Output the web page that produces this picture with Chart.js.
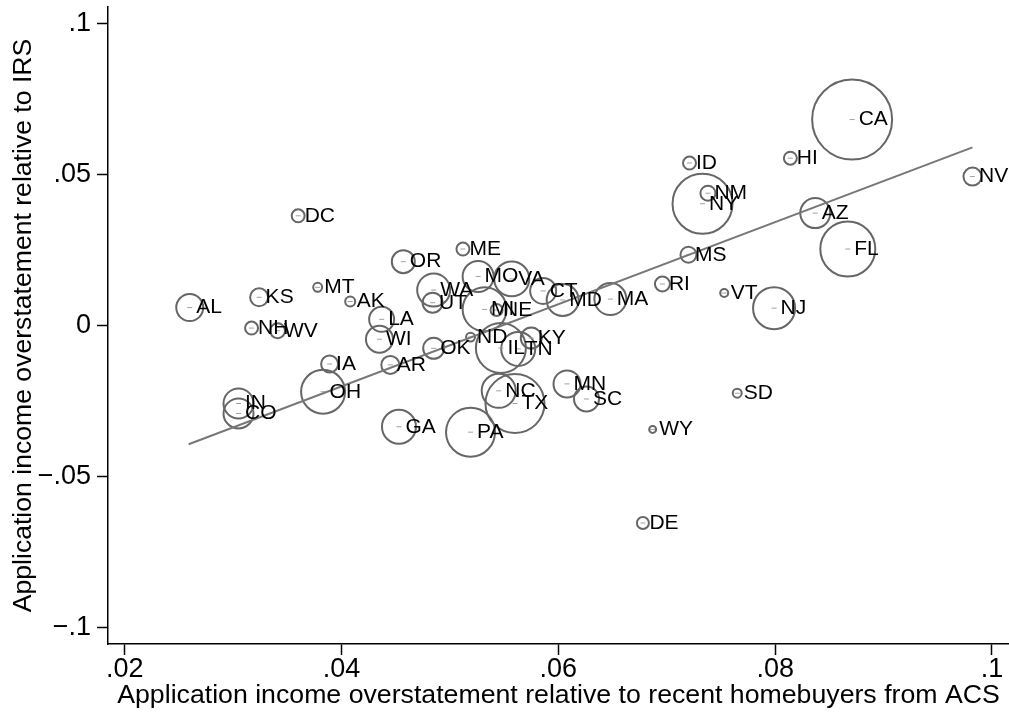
<!DOCTYPE html>
<html>
<head>
<meta charset="utf-8">
<title>Application income overstatement</title>
<script src="https://cdn.jsdelivr.net/npm/chart.js@4.4.1/dist/chart.umd.min.js"></script>
<style>
body { margin: 0; background: #fff; }
#grafico { display: block; }
</style>
</head>
<body>
<canvas id="grafico" width="1009" height="717"></canvas>
<script>

// state abbreviations
var states = ['AL','KS','NH','WV','DC','MT','AK','LA','WI','IA','AR','OH','IN','CO','GA','PA','OK','ND','WA','UT',
              'OR','ME','MO','VA','MI','NE','CT','MD','MA','IL','TN','KY','NC','TX','MN','SC','WY','DE','SD','VT',
              'NJ','RI','MS','ID','NY','NM','HI','CA','AZ','FL','NV'];

// overstatement relative to recent homebuyers from ACS
var acs = [0.0260,0.0324,0.0317,0.0341,0.0360,0.0378,0.0408,0.0437,0.0435,0.0389,0.0445,0.0383,0.0305,0.0305,0.0453,0.0519,0.0485,0.0519,0.0485,0.0484,
           0.0457,0.0512,0.0526,0.0557,0.0532,0.0543,0.0586,0.0604,0.0648,0.0547,0.0563,0.0575,0.0545,0.0560,0.0608,0.0626,0.0687,0.0678,0.0765,0.0753,
           0.0799,0.0696,0.0720,0.0721,0.0733,0.0738,0.0814,0.0871,0.0837,0.0867,0.0982];

// overstatement relative to IRS
var irs = [0.0060,0.0094,-0.0008,-0.0017,0.0364,0.0127,0.0080,0.0021,-0.0045,-0.0127,-0.0130,-0.0219,-0.0258,-0.0291,-0.0335,-0.0353,-0.0075,-0.0038,0.0118,0.0076,
           0.0212,0.0254,0.0163,0.0155,0.0054,0.0052,0.0115,0.0085,0.0088,-0.0074,-0.0077,-0.0041,-0.0216,-0.0258,-0.0193,-0.0243,-0.0344,-0.0654,-0.0224,0.0108,
           0.0058,0.0138,0.0235,0.0539,0.0404,0.0439,0.0555,0.0683,0.0373,0.0254,0.0494];

// bubble weights
var weights = [1.82,0.81,0.42,0.56,0.42,0.20,0.25,1.56,1.82,0.72,0.81,4.84,2.25,2.25,2.89,6.00,1.10,0.20,2.72,1.00,
               1.32,0.42,2.40,3.06,4.84,0.36,1.69,2.56,2.56,6.25,2.89,1.10,2.89,8.70,1.82,1.56,0.12,0.36,0.20,0.16,
               4.41,0.56,0.64,0.42,9.00,0.56,0.42,16.0,2.25,7.56,0.81];

// fitted line end points
var fitX = [0.0259, 0.0982];
var fitY = [-0.0393, 0.0591];

var xTicks = [0.02, 0.04, 0.06, 0.08, 0.1];
var xTickLabels = ['.02', '.04', '.06', '.08', '.1'];
var yTicks = [-0.1, -0.05, 0, 0.05, 0.1];
var yTickLabels = ['\u2212.1', '\u2212.05', '0', '.05', '.1'];

var fonte = '"Liberation Sans", Arial, Helvetica, sans-serif';

var bolhas = [];
var centros = [];
for (var i = 0; i < states.length; i++) {
    bolhas.push({ x: acs[i], y: irs[i], r: 10 * Math.sqrt(weights[i]) });
    centros.push({ x: acs[i], y: irs[i] });
}
var linha = [];
for (var j = 0; j < fitX.length; j++) {
    linha.push({ x: fitX[j], y: fitY[j] });
}

var rotulos = {
    id: 'rotulos',
    afterDatasetsDraw: function (chart) {
        var ctx = chart.ctx;
        var meta = chart.getDatasetMeta(0);
        ctx.save();
        ctx.font = '21px ' + fonte;
        ctx.fillStyle = '#000';
        ctx.textAlign = 'left';
        ctx.textBaseline = 'middle';
        meta.data.forEach(function (pt, k) {
            ctx.fillText(states[k], pt.x + 6.5, pt.y);
        });
        ctx.restore();
    }
};

var ctx = document.getElementById('grafico');

var grafico = new Chart(ctx, {
    type: 'bubble',
    data: {
        datasets: [
            {
                type: 'bubble',
                data: bolhas,
                borderColor: '#666666',
                backgroundColor: 'rgba(0,0,0,0)',
                borderWidth: 2,
                order: 3
            },
            {
                type: 'scatter',
                data: centros,
                pointStyle: 'line',
                pointRadius: 2.5,
                borderColor: '#a0a0a0',
                borderWidth: 1,
                order: 2
            },
            {
                type: 'line',
                data: linha,
                borderColor: '#777777',
                borderWidth: 2,
                pointRadius: 0,
                fill: false,
                order: 1
            }
        ]
    },
    options: {
        responsive: false,
        animation: false,
        events: [],
        devicePixelRatio: 1,
        layout: { autoPadding: false, padding: { top: 7, right: 0, left: 0, bottom: 0 } },
        plugins: {
            legend: { display: false },
            tooltip: { enabled: false }
        },
        scales: {
            x: {
                type: 'linear',
                min: 0.01846,
                max: 0.10157,
                afterBuildTicks: function (s) {
                    s.ticks = xTicks.map(function (v) { return { value: v }; });
                },
                afterFit: function (s) {
                    s.height = 73;
                    s.paddingLeft = 0;
                    s.paddingRight = 0;
                },
                ticks: {
                    autoSkip: false,
                    maxRotation: 0,
                    padding: 1.5,
                    color: '#000',
                    font: { family: fonte, size: 27, lineHeight: 1 },
                    callback: function (v, i) { return xTickLabels[i]; }
                },
                grid: { drawOnChartArea: false, drawTicks: true, tickLength: 11, tickColor: '#000', tickWidth: 1.5 },
                border: { display: true, color: '#000', width: 1.5 },
                title: {
                    display: true,
                    text: 'Application income overstatement relative to recent homebuyers from ACS',
                    color: '#000',
                    font: { family: fonte, size: 26.7 },
                    padding: { top: 0, bottom: 5 }
                }
            },
            y: {
                type: 'linear',
                min: -0.1055,
                max: 0.1056,
                afterBuildTicks: function (s) {
                    s.ticks = yTicks.map(function (v) { return { value: v }; });
                },
                afterFit: function (s) {
                    s.width = 108;
                    s.paddingTop = 0;
                    s.paddingBottom = 0;
                },
                ticks: {
                    autoSkip: false,
                    padding: 6,
                    color: '#000',
                    font: { family: fonte, size: 27, lineHeight: 1 },
                    callback: function (v, i) { return yTickLabels[i]; }
                },
                grid: { drawOnChartArea: false, drawTicks: true, tickLength: 11, tickColor: '#000', tickWidth: 1.5 },
                border: { display: true, color: '#000', width: 1.5 },
                title: {
                    display: true,
                    text: 'Application income overstatement relative to IRS',
                    color: '#000',
                    font: { family: fonte, size: 26.6 },
                    padding: { top: 8, bottom: 0 }
                }
            }
        }
    },
    plugins: [rotulos]
});

</script>
</body>
</html>
